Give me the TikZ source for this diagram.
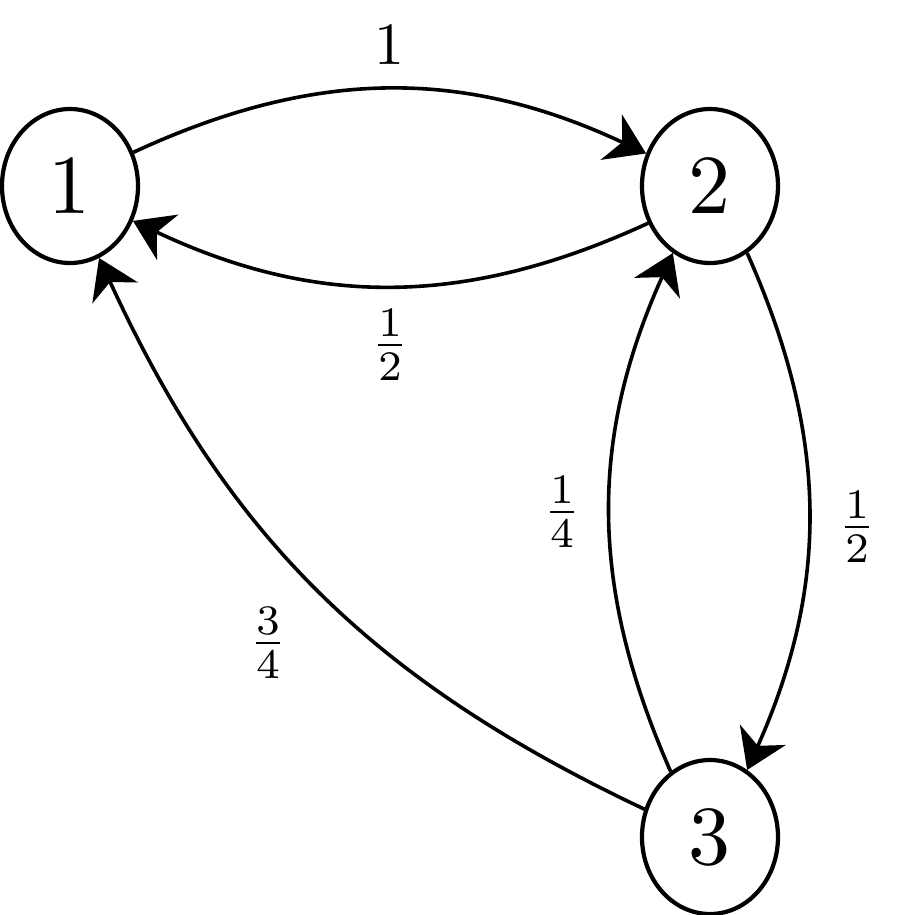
\documentclass[tikz,border=0pt]{standalone}
\usetikzlibrary{arrows.meta,shapes.geometric}
\begin{document}
\begin{tikzpicture}[x={(0.25pt,0)},y={(0,-0.25pt)},
  state/.style={draw,ellipse,line width=1.05pt,inner sep=0pt,minimum width=34pt,minimum height=38.5pt},
  edge/.style={line width=0.9pt,-{Stealth[length=9.6pt,width=12.5pt,inset=3pt]}},
  lab/.style={inner sep=0pt}]
\useasboundingbox (0,0) rectangle (908,915);
\node[state] (n1) at (70,186) {\scalebox{2.1}{1}};
\node[state] (n2) at (710,186) {\scalebox{2.1}{2}};
\node[state] (n3) at (710,837) {\scalebox{2.1}{3}};
\draw[edge] (n1.28) to[bend left=25] (n2.153);
\draw[edge] (n2.211) to[bend left=25] (n1.-29);
\draw[edge] (n2.-61) to[bend left=24] (n3.61);
\draw[edge] (n3.121) to[bend left=24] (n2.241);
\draw[edge] (n3.157) to[bend left=20] (n1.-68);
\node[lab] (l12) at (390,45) {\scalebox{1.5}{$1$}};
\node[lab] (l21) at (390,345) {\scalebox{1.5}{$\frac{1}{2}$}};
\node[lab] (l23) at (857,527) {\scalebox{1.5}{$\frac{1}{2}$}};
\node[lab] (l32) at (562,512) {\scalebox{1.5}{$\frac{1}{4}$}};
\node[lab] (l31) at (268,643) {\scalebox{1.5}{$\frac{3}{4}$}};
\end{tikzpicture}
\end{document}
